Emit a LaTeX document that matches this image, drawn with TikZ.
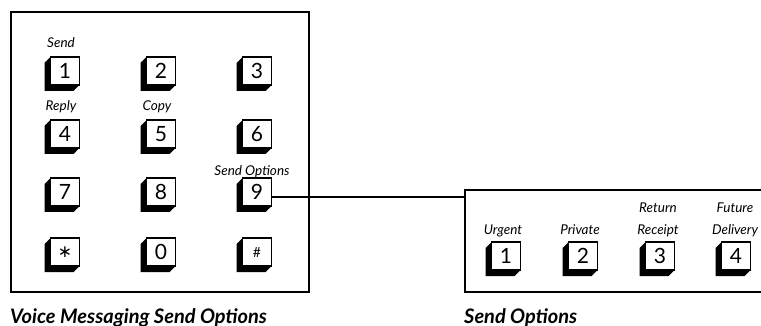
\documentclass[tikz,border=0pt]{standalone}
\usepackage{fontspec}
\setmainfont{Lato}
\newfontfamily\symfont{DejaVu Sans}
\begin{document}
\begin{tikzpicture}[x=1pt,y=-1pt,
  frame/.style={draw, line width=1.6pt},
  keyface/.style={draw, line width=1.1pt, fill=white, minimum width=29pt, minimum height=28pt, inner sep=0pt, font=\fontsize{21}{22}\selectfont},
  keylabel/.style={anchor=base, inner sep=0pt, font=\fontsize{13.5}{15}\selectfont\itshape},
  caption/.style={anchor=base west, inner sep=0pt, font=\fontsize{20}{22}\selectfont\bfseries\itshape},
  small/.style={font=\fontsize{14}{14}\selectfont}]
\useasboundingbox (0,0) rectangle (761,326);
\newcommand\phonekey[4][]{%
  \begin{scope}[shift={(#3)}]
    \fill[black] (-14.5,-14) -- (-20.5,-8) -- (-20.5,20) -- (8.5,20) -- (14.5,14) -- (-14.5,14) -- cycle;
  \end{scope}
  \node[keyface,#1] (#2) at (#3) {#4};
}
% left panel
\node[frame, minimum width=298pt, minimum height=280pt, anchor=north west, inner sep=0pt] (lbox) at (10,11) {};
\phonekey{k1}{65,71}{1}
\phonekey{k2}{161,71}{2}
\phonekey{k3}{257,71}{3}
\phonekey{k4}{65,134}{4}
\phonekey{k5}{161,134}{5}
\phonekey{k6}{257,134}{6}
\phonekey{k7}{65,192}{7}
\phonekey{k8}{161,192}{8}
\phonekey{k9}{257,192}{9}
\phonekey[font=\fontsize{17}{17}\selectfont\symfont]{kstar}{65,252}{∗}
\phonekey{k0}{161,252}{0}
\phonekey[small]{khash}{257,252}{\#}
\node[keylabel] (lsend) at (61,48) {Send};
\node[keylabel] (lreply) at (61,111) {Reply};
\node[keylabel] (lcopy) at (157,111) {Copy};
\node[keylabel] (lsendopt) at (252,176) {Send Options};
\node[caption] (cap1) at (10,323) {Voice Messaging Send Options};
% right panel
\node[frame, minimum width=320pt, minimum height=102pt, anchor=north west, inner sep=0pt] (rbox) at (464,189) {};
\phonekey{r1}{506,256}{1}
\phonekey{r2}{583,256}{2}
\phonekey{r3}{660,256}{3}
\phonekey{r4}{736,256}{4}
\node[keylabel] (lurgent) at (503,234) {Urgent};
\node[keylabel] (lprivate) at (580,234) {Private};
\node[keylabel] (lreturn) at (658,212) {Return};
\node[keylabel] (lreceipt) at (658,234) {Receipt};
\node[keylabel] (lfuture) at (735,212) {Future};
\node[keylabel] (ldelivery) at (735,234) {Delivery};
\node[caption] (cap2) at (464,323) {Send Options};
% connector
\draw[line width=1.6pt] ([yshift=-5pt]k9.east) -- ([yshift=-5pt]k9.east -| rbox.west);
\end{tikzpicture}
\end{document}
